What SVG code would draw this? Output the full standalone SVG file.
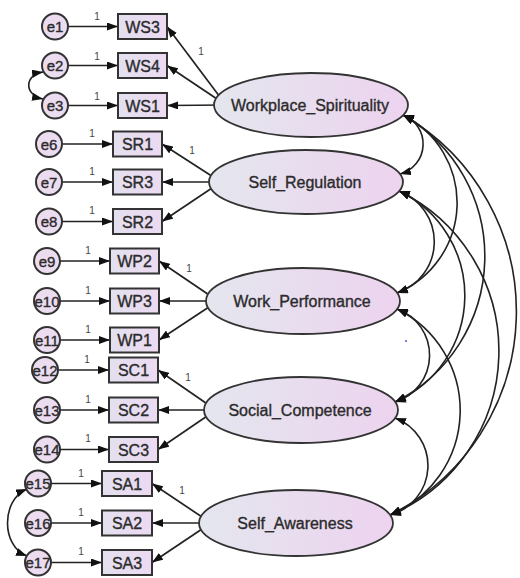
<svg xmlns="http://www.w3.org/2000/svg" width="520" height="578" viewBox="0 0 520 578">
<defs>
<linearGradient id="gLat" x1="0" y1="0" x2="1" y2="0">
<stop offset="0" stop-color="#e4e6ee"/>
<stop offset="1" stop-color="#edd3ef"/>
</linearGradient>
<linearGradient id="gObs" x1="0" y1="0" x2="1" y2="0">
<stop offset="0" stop-color="#e3e0ef"/>
<stop offset="1" stop-color="#ecdaf1"/>
</linearGradient>
<marker id="ah" markerUnits="userSpaceOnUse" markerWidth="11" markerHeight="8" refX="11" refY="4" orient="auto-start-reverse" viewBox="0 0 11 8">
<path d="M0,0 L11,4 L0,8 z" fill="#111"/>
</marker>
<style>
.ln{stroke:#222;stroke-width:1.7;fill:none;marker-end:url(#ah)}
.cv{stroke:#222;stroke-width:1.6;fill:none;marker-start:url(#ah);marker-end:url(#ah)}
.lat{fill:url(#gLat);stroke:#333;stroke-width:1.8}
.obs{fill:url(#gObs);stroke:#333;stroke-width:2}
.err{fill:#ecdcf0;stroke:#333;stroke-width:2}
.t{font-family:"Liberation Sans",Arial,sans-serif;fill:#2b2b2b;stroke:#2b2b2b;stroke-width:0.35;text-anchor:middle}
.tl{font-size:16px}
.to{font-size:16px}
.te{font-size:15px}
.one{font-family:"Liberation Sans",Arial,sans-serif;font-size:10px;fill:#444;text-anchor:middle}
</style>
</defs>
<rect width="520" height="578" fill="#fff"/>

<g id="connectors">
<line class="ln" x1="55" y1="26.5" x2="118" y2="26.5"/>
<line class="ln" x1="55" y1="65.5" x2="118" y2="65.5"/>
<line class="ln" x1="55" y1="105.5" x2="118" y2="105.5"/>
<line class="ln" x1="49" y1="144" x2="113" y2="144"/>
<line class="ln" x1="49" y1="182" x2="113" y2="182"/>
<line class="ln" x1="49" y1="221.5" x2="113" y2="221.5"/>
<line class="ln" x1="47" y1="261" x2="110" y2="261"/>
<line class="ln" x1="47" y1="301" x2="110" y2="301"/>
<line class="ln" x1="47" y1="340" x2="110" y2="340"/>
<line class="ln" x1="45" y1="370" x2="109" y2="370"/>
<line class="ln" x1="47" y1="410" x2="109" y2="410"/>
<line class="ln" x1="47" y1="449.5" x2="109" y2="449.5"/>
<line class="ln" x1="38" y1="483.5" x2="102" y2="483.5"/>
<line class="ln" x1="38" y1="523" x2="102" y2="523"/>
<line class="ln" x1="38" y1="562.5" x2="102" y2="562.5"/>
<line class="ln" x1="226" y1="105" x2="167" y2="26.5"/>
<line class="ln" x1="226" y1="105" x2="167" y2="65.5"/>
<line class="ln" x1="226" y1="105" x2="167" y2="105.5"/>
<line class="ln" x1="221" y1="182" x2="162" y2="144"/>
<line class="ln" x1="221" y1="182" x2="162" y2="182"/>
<line class="ln" x1="221" y1="182" x2="162" y2="221.5"/>
<line class="ln" x1="218" y1="301" x2="159" y2="261"/>
<line class="ln" x1="218" y1="301" x2="159" y2="301"/>
<line class="ln" x1="218" y1="301" x2="159" y2="340"/>
<line class="ln" x1="216" y1="410" x2="158" y2="370"/>
<line class="ln" x1="216" y1="410" x2="158" y2="410"/>
<line class="ln" x1="216" y1="410" x2="158" y2="449.5"/>
<line class="ln" x1="211" y1="523" x2="152" y2="483.5"/>
<line class="ln" x1="211" y1="523" x2="152" y2="523"/>
<line class="ln" x1="211" y1="523" x2="152" y2="562.5"/>
<path class="cv" d="M43,72 C24,75 24,95 43,99"/>
<path class="cv" d="M27,489 C1,500 1,546 27,556"/>
<path class="cv" d="M403,115 A31,31 0 0 1 400,174"/>
<path class="cv" d="M403,115 A98,98 0 0 1 397,293"/>
<path class="cv" d="M403,115 A163,163 0 0 1 395,402"/>
<path class="cv" d="M403,115 A227,227 0 0 1 390,515"/>
<path class="cv" d="M399,191 A54,54 0 0 1 397,293"/>
<path class="cv" d="M399,191 A116,116 0 0 1 395,402"/>
<path class="cv" d="M399,191 A178,178 0 0 1 390,515"/>
<path class="cv" d="M397,309 A49,49 0 0 1 395,402"/>
<path class="cv" d="M397,309 A113,113 0 0 1 390,515"/>
<path class="cv" d="M395,418 A51,51 0 0 1 390,515"/>
<text class="one" x="97" y="20">1</text>
<text class="one" x="97" y="60">1</text>
<text class="one" x="97" y="100">1</text>
<text class="one" x="92" y="137">1</text>
<text class="one" x="92" y="175">1</text>
<text class="one" x="92" y="214">1</text>
<text class="one" x="88" y="254">1</text>
<text class="one" x="88" y="294">1</text>
<text class="one" x="88" y="333">1</text>
<text class="one" x="87" y="363">1</text>
<text class="one" x="88" y="403">1</text>
<text class="one" x="88" y="442">1</text>
<text class="one" x="81" y="477">1</text>
<text class="one" x="81" y="516">1</text>
<text class="one" x="81" y="555">1</text>
<text class="one" x="201" y="55">1</text>
<text class="one" x="192" y="154">1</text>
<text class="one" x="189" y="272">1</text>
<text class="one" x="188" y="381">1</text>
<text class="one" x="182" y="494">1</text>
</g>

<g id="Workplace_Spirituality"><ellipse class="lat" cx="311" cy="105" rx="97" ry="32"/><text class="t tl" x="310" y="111">Workplace_Spirituality</text></g>
<g id="Self_Regulation"><ellipse class="lat" cx="306" cy="182" rx="97" ry="32"/><text class="t tl" x="305" y="188">Self_Regulation</text></g>
<g id="Work_Performance"><ellipse class="lat" cx="303" cy="301" rx="97" ry="33"/><text class="t tl" x="302" y="307">Work_Performance</text></g>
<g id="Social_Competence"><ellipse class="lat" cx="301" cy="410" rx="97" ry="33"/><text class="t tl" x="300" y="416">Social_Competence</text></g>
<g id="Self_Awareness"><ellipse class="lat" cx="296" cy="523" rx="97" ry="33"/><text class="t tl" x="295" y="529">Self_Awareness</text></g>

<g id="WS3"><rect class="obs" x="118" y="14" width="49" height="25"/><text class="t to" x="142.5" y="32.5">WS3</text></g>
<g id="WS4"><rect class="obs" x="118" y="53" width="49" height="25"/><text class="t to" x="142.5" y="71.5">WS4</text></g>
<g id="WS1"><rect class="obs" x="118" y="93" width="49" height="25"/><text class="t to" x="142.5" y="111.5">WS1</text></g>
<g id="SR1"><rect class="obs" x="113" y="131.5" width="49" height="25"/><text class="t to" x="137.5" y="150">SR1</text></g>
<g id="SR3"><rect class="obs" x="113" y="169.5" width="49" height="25"/><text class="t to" x="137.5" y="188">SR3</text></g>
<g id="SR2"><rect class="obs" x="113" y="209" width="49" height="25"/><text class="t to" x="137.5" y="227.5">SR2</text></g>
<g id="WP2"><rect class="obs" x="110" y="248.5" width="49" height="25"/><text class="t to" x="134.5" y="267">WP2</text></g>
<g id="WP3"><rect class="obs" x="110" y="288.5" width="49" height="25"/><text class="t to" x="134.5" y="307">WP3</text></g>
<g id="WP1"><rect class="obs" x="110" y="327.5" width="49" height="25"/><text class="t to" x="134.5" y="346">WP1</text></g>
<g id="SC1"><rect class="obs" x="109" y="357.5" width="49" height="25"/><text class="t to" x="133.5" y="376">SC1</text></g>
<g id="SC2"><rect class="obs" x="109" y="397.5" width="49" height="25"/><text class="t to" x="133.5" y="416">SC2</text></g>
<g id="SC3"><rect class="obs" x="109" y="437" width="49" height="25"/><text class="t to" x="133.5" y="455.5">SC3</text></g>
<g id="SA1"><rect class="obs" x="102" y="471" width="50" height="25"/><text class="t to" x="127" y="489.5">SA1</text></g>
<g id="SA2"><rect class="obs" x="102" y="510.5" width="50" height="25"/><text class="t to" x="127" y="529">SA2</text></g>
<g id="SA3"><rect class="obs" x="102" y="550" width="50" height="25"/><text class="t to" x="127" y="568.5">SA3</text></g>

<g id="e1"><circle class="err" cx="55" cy="26.5" r="13"/><text class="t te" x="55" y="32">e1</text></g>
<g id="e2"><circle class="err" cx="55" cy="65.5" r="13"/><text class="t te" x="55" y="71">e2</text></g>
<g id="e3"><circle class="err" cx="55" cy="105.5" r="13"/><text class="t te" x="55" y="111">e3</text></g>
<g id="e6"><circle class="err" cx="49" cy="144" r="13"/><text class="t te" x="49" y="149.5">e6</text></g>
<g id="e7"><circle class="err" cx="49" cy="182" r="13"/><text class="t te" x="49" y="187.5">e7</text></g>
<g id="e8"><circle class="err" cx="49" cy="221.5" r="13"/><text class="t te" x="49" y="227">e8</text></g>
<g id="e9"><circle class="err" cx="47" cy="261" r="13"/><text class="t te" x="47" y="266.5">e9</text></g>
<g id="e10"><circle class="err" cx="47" cy="301" r="13"/><text class="t te" x="47" y="306.5">e10</text></g>
<g id="e11"><circle class="err" cx="47" cy="340" r="13"/><text class="t te" x="47" y="345.5">e11</text></g>
<g id="e12"><circle class="err" cx="45" cy="370" r="13"/><text class="t te" x="45" y="375.5">e12</text></g>
<g id="e13"><circle class="err" cx="47" cy="410" r="13"/><text class="t te" x="47" y="415.5">e13</text></g>
<g id="e14"><circle class="err" cx="47" cy="449.5" r="13"/><text class="t te" x="47" y="455">e14</text></g>
<g id="e15"><circle class="err" cx="38" cy="483.5" r="13"/><text class="t te" x="38" y="489">e15</text></g>
<g id="e16"><circle class="err" cx="38" cy="523" r="13"/><text class="t te" x="38" y="528.5">e16</text></g>
<g id="e17"><circle class="err" cx="38" cy="562.5" r="13"/><text class="t te" x="38" y="568">e17</text></g>
<circle cx="406" cy="341" r="1" fill="#5a4fd0"/>
</svg>
